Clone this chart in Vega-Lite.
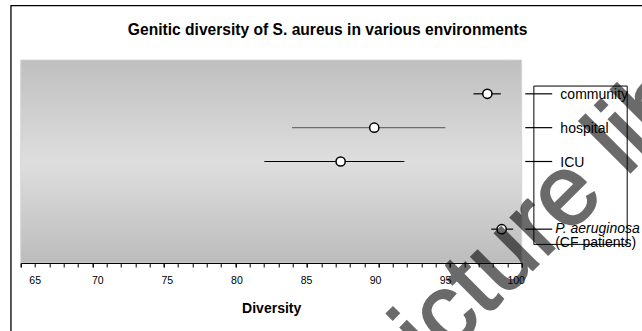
{
  "$schema": "https://vega.github.io/schema/vega-lite/v6.json",
  "width": 501,
  "height": 203,
  "autosize": {"type": "none"},
  "padding": {"left": 20.7, "top": 60, "right": 120.3, "bottom": 68},
  "background": "white",
  "config": {"view": {"stroke": null}, "font": "Liberation Sans"},
  "resolve": {"axis": {"x": "independent"}},
  "data": {
    "values": [
      {"env": "community", "slot": 5, "mean": 97.6, "lo": 96.63, "hi": 98.54},
      {"env": "hospital", "slot": 4, "mean": 89.7, "lo": 83.95, "hi": 94.67},
      {"env": "ICU", "slot": 3, "mean": 87.35, "lo": 82.02, "hi": 91.8},
      {"env": "P. aeruginosa", "slot": 1, "mean": 98.6, "lo": 97.87, "hi": 99.4}
    ]
  },
  "layer": [
    {
      "data": {"values": [{}]},
      "mark": {
        "type": "rect",
        "fill": {
          "gradient": "linear",
          "x1": 0, "y1": 0, "x2": 0, "y2": 1,
          "stops": [
            {"offset": 0, "color": "#bfbfbf"},
            {"offset": 0.5, "color": "#dedede"},
            {"offset": 1, "color": "#bcbcbc"}
          ]
        },
        "stroke": "#d6d6d6",
        "strokeWidth": 1
      },
      "encoding": {
        "x": {
          "datum": 65,
          "type": "quantitative",
          "scale": {"domain": [65, 100], "nice": false, "zero": false},
          "axis": {
            "orient": "bottom",
            "zindex": 1,
            "values": [65,66,67,68,69,70,71,72,73,74,75,76,77,78,79,80,81,82,83,84,85,86,87,88,89,90,91,92,93,94,95,96,97,98,99,100],
            "labels": false,
            "grid": false,
            "tickSize": 4,
            "tickColor": "black",
            "domainColor": "black",
            "title": null
          }
        },
        "x2": {"datum": 100},
        "y": {
          "datum": 0,
          "type": "quantitative",
          "scale": {"domain": [0, 6], "nice": false, "zero": false},
          "axis": {
            "orient": "right",
            "zindex": 1,
            "values": [0, 1, 2, 3, 4, 5, 6],
            "labels": false,
            "grid": false,
            "tickSize": -4,
            "tickColor": "black",
            "domainColor": "black",
            "title": null
          }
        },
        "y2": {"datum": 6}
      }
    },
    {
      "mark": {"type": "rule", "strokeWidth": 1.2},
      "encoding": {
        "x": {
          "field": "lo",
          "type": "quantitative",
          "axis": {
            "orient": "bottom",
            "zindex": 1,
            "values": [65, 70, 75, 80, 85, 90, 95, 100],
            "labelOverlap": false,
            "labelFlush": false,
            "labelOffset": {
              "condition": [
                {"test": "datum.value === 65", "value": 14},
                {"test": "datum.value === 70", "value": 5},
                {"test": "datum.value === 75", "value": 3},
                {"test": "datum.value === 80", "value": 1},
                {"test": "datum.value === 85", "value": -1},
                {"test": "datum.value === 90", "value": -3.5},
                {"test": "datum.value === 95", "value": -5}
              ],
              "value": -6
            },
            "domain": false,
            "grid": false,
            "tickSize": 4,
            "tickColor": "black",
            "labelColor": "black",
            "labelFont": "Liberation Sans",
            "labelFontSize": 10.5,
            "labelPadding": 8,
            "title": "Diversity",
            "titleFont": "Liberation Sans",
            "titleFontSize": 14,
            "titleFontWeight": "bold",
            "titleColor": "black",
            "titlePadding": 16
          }
        },
        "x2": {"field": "hi"},
        "y": {"field": "slot", "type": "quantitative", "axis": null},
        "color": {
          "condition": {"test": "datum.env === 'hospital'", "value": "#6e6e6e"},
          "value": "black"
        }
      }
    },
    {
      "mark": {"type": "point", "shape": "circle", "filled": true, "fill": "white", "stroke": "black", "strokeWidth": 1.5, "size": 85, "opacity": 1},
      "encoding": {
        "x": {"field": "mean", "type": "quantitative", "axis": null},
        "y": {"field": "slot", "type": "quantitative", "axis": null}
      }
    },
    {
      "mark": {"type": "rule", "color": "black", "strokeWidth": 1.2},
      "encoding": {
        "x": {"datum": 100.25, "type": "quantitative", "axis": null},
        "x2": {"datum": 102.13},
        "y": {"field": "slot", "type": "quantitative", "axis": null}
      }
    },
    {
      "transform": [{"filter": "datum.env !== 'P. aeruginosa'"}],
      "mark": {"type": "text", "align": "left", "baseline": "middle", "font": "Liberation Sans", "fontSize": 14, "color": "black", "dy": 1},
      "encoding": {
        "x": {"datum": 102.7, "type": "quantitative", "axis": null},
        "y": {"field": "slot", "type": "quantitative", "axis": null},
        "text": {"field": "env"}
      }
    },
    {
      "transform": [{"filter": "datum.env === 'P. aeruginosa'"}],
      "mark": {"type": "text", "align": "left", "baseline": "middle", "font": "Liberation Sans", "fontSize": 14, "fontStyle": "italic", "color": "black", "dy": 0},
      "encoding": {
        "x": {"datum": 102.34, "type": "quantitative", "axis": null},
        "y": {"field": "slot", "type": "quantitative", "axis": null},
        "text": {"field": "env"}
      }
    },
    {
      "transform": [{"filter": "datum.env === 'P. aeruginosa'"}],
      "mark": {"type": "text", "align": "left", "baseline": "middle", "font": "Liberation Sans", "fontSize": 14, "color": "black", "dy": 13.5, "text": "(CF patients)"},
      "encoding": {
        "x": {"datum": 102.34, "type": "quantitative", "axis": null},
        "y": {"field": "slot", "type": "quantitative", "axis": null}
      }
    },
    {
      "data": {"values": [{}]},
      "mark": {"type": "rect", "fill": "white", "fillOpacity": 0, "stroke": "black", "strokeWidth": 1},
      "encoding": {
        "x": {"datum": 100.85, "type": "quantitative", "axis": null},
        "x2": {"datum": 107.37},
        "y": {"datum": 5.23, "type": "quantitative", "axis": null},
        "y2": {"datum": 0.55}
      }
    },
    {
      "data": {"values": [{}]},
      "mark": {"type": "rect", "fill": "white", "fillOpacity": 0, "stroke": "black", "strokeWidth": 1.3},
      "encoding": {
        "x": {"datum": 64.32, "type": "quantitative", "axis": null},
        "x2": {"datum": 115},
        "y": {"datum": 7.61, "type": "quantitative", "axis": null},
        "y2": {"datum": -4}
      }
    },
    {
      "data": {"values": [{}]},
      "mark": {"type": "text", "text": "Genitic diversity of S. aureus in various environments", "align": "center", "baseline": "alphabetic", "font": "Liberation Sans", "fontSize": 15.6, "fontWeight": "bold", "color": "black"},
      "encoding": {
        "x": {"datum": 86.44, "type": "quantitative", "axis": null},
        "y": {"datum": 6.74, "type": "quantitative", "axis": null}
      }
    },
    {
      "data": {"values": [{}]},
      "mark": {"type": "text", "text": "Picture library", "align": "left", "baseline": "alphabetic", "angle": -45, "font": "Liberation Sans", "fontSize": 100, "fontWeight": "normal", "fill": "black", "stroke": "black", "strokeWidth": 2, "opacity": 0.58},
      "encoding": {
        "x": {"datum": 90.53, "type": "quantitative", "axis": null},
        "y": {"datum": -4.54, "type": "quantitative", "axis": null}
      }
    }
  ]
}
